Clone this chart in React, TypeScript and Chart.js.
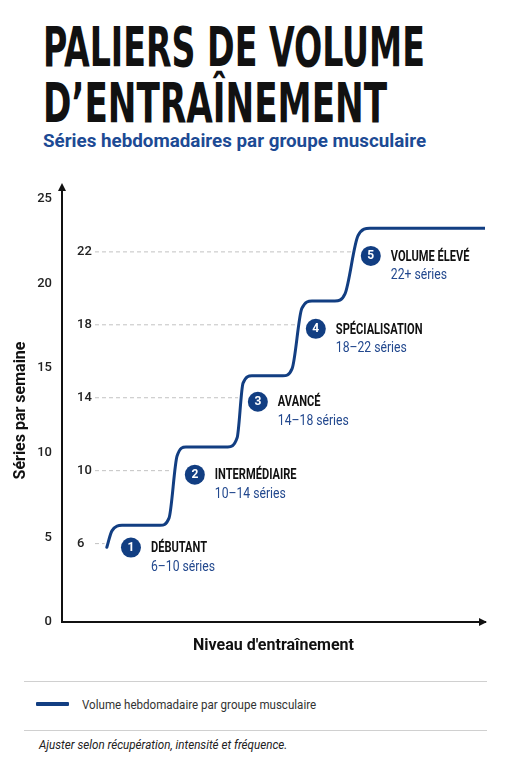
import React, { useEffect, useLayoutEffect, useRef, useState } from "react";
import { Chart, registerables } from "chart.js";
Chart.register(...registerables);

// ---------- data ----------
const titleLines = ["PALIERS DE VOLUME", "D’ENTRAÎNEMENT"];
const subtitle = "Séries hebdomadaires par groupe musculaire";
const yAxisTitle = "Séries par semaine";
const xAxisTitle = "Niveau d'entraînement";
const legendLabel = "Volume hebdomadaire par groupe musculaire";
const footnote = "Ajuster selon récupération, intensité et fréquence.";

const outerTicks = [0, 5, 10, 15, 20, 25];
const tierTicks = [6, 10, 14, 18, 22];
const tierNames = ["DÉBUTANT", "INTERMÉDIAIRE", "AVANCÉ", "SPÉCIALISATION", "VOLUME ÉLEVÉ"];
const tierRanges = ["6–10 séries", "10–14 séries", "14–18 séries", "18–22 séries", "22+ séries"];
const tierLevel = [1.63, 3.14, 4.63, 6.0, 7.3];

const curveLevel = [
  1.06, 1.18, 1.42,
  2.32, 2.53, 2.72, 2.93,
  3.92, 4.14, 4.28, 4.49,
  5.22, 5.44, 5.67, 5.91,
  6.45, 6.69, 7.0, 7.28,
  10,
];
const curveVolume = [
  5.8, 6.7, 7.0,
  7.0, 7.4, 10.8, 11.3,
  11.3, 11.8, 14.8, 15.2,
  15.2, 15.6, 18.9, 19.3,
  19.3, 19.7, 22.9, 23.3,
  23.3,
];
const guideStartLevel = 0.78;

// ---------- styles ----------
const NAVY = "#123e82";
const BLUE_TEXT = "#22488e";
const FONT = "Roboto, 'Noto Sans', sans-serif";

function crossLevel(v: number): number {
  for (let i = 0; i < curveVolume.length - 1; i++) {
    const a = curveVolume[i], b = curveVolume[i + 1];
    if (b > a && v >= a && v <= b) {
      return curveLevel[i] + ((v - a) / (b - a)) * (curveLevel[i + 1] - curveLevel[i]);
    }
  }
  return curveLevel[0];
}

function Fit({ width, style, children }: { width: number; style: React.CSSProperties; children: React.ReactNode }) {
  const ref = useRef<HTMLSpanElement>(null);
  const [s, setS] = useState(1);
  useLayoutEffect(() => {
    const measure = () => {
      const el = ref.current;
      if (!el) return;
      const w = el.offsetWidth;
      if (w > 0) setS(width / w);
    };
    measure();
    (document as any).fonts?.ready?.then(measure);
  }, [width, children]);
  return (
    <span
      ref={ref}
      style={{
        ...style,
        position: "absolute",
        display: "inline-block",
        whiteSpace: "nowrap",
        transform: `scaleX(${s})`,
        transformOrigin: "left center",
      }}
    >
      {children}
    </span>
  );
}

const tierPlugin = {
  id: "tiers",
  afterDatasetsDraw(chart: any) {
    const ctx = chart.ctx as CanvasRenderingContext2D;
    const xs = chart.scales.x;
    const ys = chart.scales.yInner;
    tierTicks.forEach((v, i) => {
      const cx = xs.getPixelForValue(tierLevel[i]);
      const cy = ys.getPixelForValue(v) + 4;
      ctx.save();
      ctx.beginPath();
      ctx.arc(cx, cy, 10, 0, Math.PI * 2);
      ctx.fillStyle = NAVY;
      ctx.fill();
      ctx.fillStyle = "#fff";
      ctx.font = `700 12px ${FONT}`;
      ctx.textAlign = "center";
      ctx.textBaseline = "middle";
      ctx.fillText(String(i + 1), cx, cy + 0.5);

      ctx.textAlign = "left";
      ctx.save();
      ctx.translate(cx + 20, cy + 1);
      ctx.scale(0.74, 1);
      ctx.fillStyle = "#111";
      ctx.font = `700 15px ${FONT}`;
      ctx.fillText(tierNames[i], 0, 0);
      ctx.restore();

      ctx.save();
      ctx.translate(cx + 20, cy + 20);
      ctx.scale(0.87, 1);
      ctx.fillStyle = BLUE_TEXT;
      ctx.font = `400 14px ${FONT}`;
      ctx.fillText(tierRanges[i], 0, 0);
      ctx.restore();
      ctx.restore();
    });
  },
};

const arrowPlugin = {
  id: "arrows",
  afterDraw(chart: any) {
    const ctx = chart.ctx as CanvasRenderingContext2D;
    const { left, top, right, bottom } = chart.chartArea;
    ctx.save();
    ctx.strokeStyle = "#111";
    ctx.fillStyle = "#111";
    ctx.lineWidth = 2;
    ctx.beginPath();
    ctx.moveTo(left, top);
    ctx.lineTo(left, top - 10);
    ctx.stroke();
    ctx.beginPath();
    ctx.moveTo(left, top - 16);
    ctx.lineTo(left - 4, top - 8);
    ctx.lineTo(left + 4, top - 8);
    ctx.closePath();
    ctx.fill();
    ctx.beginPath();
    ctx.moveTo(right + 2, bottom);
    ctx.lineTo(right - 6, bottom - 4);
    ctx.lineTo(right - 6, bottom + 4);
    ctx.closePath();
    ctx.fill();
    ctx.restore();
  },
};

function ChartView() {
  const ref = useRef<HTMLCanvasElement>(null);
  useEffect(() => {
    if (!ref.current) return;
    const guides = tierTicks.map((v) => ({
      data: [
        { x: guideStartLevel, y: v },
        { x: crossLevel(v) - 0.08, y: v },
      ],
      borderColor: "#c2c2c2",
      borderWidth: 1,
      borderDash: [4, 3],
      pointRadius: 0,
      tension: 0,
      yAxisID: "yInner",
    }));
    const chart = new Chart(ref.current, {
      type: "line",
      data: {
        datasets: [
          {
            label: legendLabel,
            data: curveLevel.map((x, i) => ({ x, y: curveVolume[i] })),
            borderColor: NAVY,
            borderWidth: 3,
            pointRadius: 0,
            cubicInterpolationMode: "monotone",
            borderCapStyle: "round",
            yAxisID: "yInner",
          } as any,
          ...guides,
        ],
      },
      options: {
        animation: false,
        responsive: false,
        layout: { padding: { top: 39, right: 26, left: 0, bottom: 14.8 } },
        plugins: { legend: { display: false }, tooltip: { enabled: false }, title: { display: false } },
        scales: {
          x: {
            type: "linear",
            min: 0,
            max: 10,
            grid: { display: false, drawTicks: false },
            ticks: { display: false },
            border: { display: true, color: "#111", width: 2 },
            title: {
              display: true,
              text: xAxisTitle,
              color: "#111",
              font: { family: FONT, size: 16, weight: "bold" },
              padding: { top: 14, bottom: 0 },
            },
          },
          yOuter: {
            type: "linear",
            position: "left",
            weight: 1,
            min: 0,
            max: 25,
            afterBuildTicks: (s: any) => {
              s.ticks = outerTicks.map((v) => ({ value: v }));
            },
            afterFit: (s: any) => {
              s.width = 62;
            },
            grid: { display: false, drawTicks: false },
            border: { display: true, color: "#111", width: 2 },
            ticks: { color: "#222", padding: 10, font: { family: FONT, size: 13, weight: 500 } },
            title: {
              display: true,
              text: yAxisTitle,
              color: "#111",
              font: { family: FONT, size: 16, weight: "bold" },
              padding: { top: 11, bottom: 0 },
            },
          },
          yInner: {
            type: "linear",
            position: "left",
            weight: 0,
            min: 1.7,
            max: 24.9,
            afterBuildTicks: (s: any) => {
              s.ticks = tierTicks.map((v) => ({ value: v }));
            },
            afterFit: (s: any) => {
              s.width = 0;
            },
            grid: { display: false, drawTicks: false },
            border: { display: false },
            ticks: {
              mirror: true,
              crossAlign: "near",
              padding: 15,
              color: "#222",
              font: { family: FONT, size: 13, weight: 500 },
            },
          },
        },
      } as any,
      plugins: [tierPlugin, arrowPlugin],
    });
    return () => chart.destroy();
  }, []);
  return (
    <canvas
      ref={ref}
      width={511}
      height={510}
      style={{ position: "absolute", left: 0, top: 160, width: 511, height: 510 }}
    />
  );
}

export default function App() {
  const titleStyle: React.CSSProperties = {
    fontFamily: "'DejaVu Sans Condensed', 'Liberation Sans Narrow', Roboto, sans-serif",
    fontWeight: 700,
    fontSize: 56,
    lineHeight: "56px",
    color: "#111",
    left: 43,
  };
  return (
    <div style={{ position: "relative", width: 511, height: 768, background: "#fff", overflow: "hidden" }}>
      <style>{`body{margin:0;background:#fff;}`}</style>
      <Fit width={382} style={{ ...titleStyle, top: 19 }}>{titleLines[0]}</Fit>
      <Fit width={344} style={{ ...titleStyle, top: 75 }}>{titleLines[1]}</Fit>
      <Fit
        width={383}
        style={{ left: 43, top: 132, fontFamily: FONT, fontWeight: 700, fontSize: 18, lineHeight: "18px", color: "#1c4a94" }}
      >
        {subtitle}
      </Fit>
      <ChartView />
      <div style={{ position: "absolute", left: 24, top: 681, width: 463, height: 1, background: "#d0d0d0" }} />
      <div style={{ position: "absolute", left: 36, top: 702, width: 33, height: 4, background: NAVY, borderRadius: 1 }} />
      <Fit
        width={234}
        style={{ left: 82, top: 697.5, fontFamily: FONT, fontWeight: 400, fontSize: 13, lineHeight: "13px", color: "#333" }}
      >
        {legendLabel}
      </Fit>
      <div style={{ position: "absolute", left: 24, top: 730, width: 463, height: 1, background: "#d0d0d0" }} />
      <Fit
        width={248}
        style={{
          left: 39,
          top: 739,
          fontFamily: FONT,
          fontStyle: "italic",
          fontWeight: 400,
          fontSize: 12,
          lineHeight: "12px",
          color: "#222",
        }}
      >
        {footnote}
      </Fit>
    </div>
  );
}
